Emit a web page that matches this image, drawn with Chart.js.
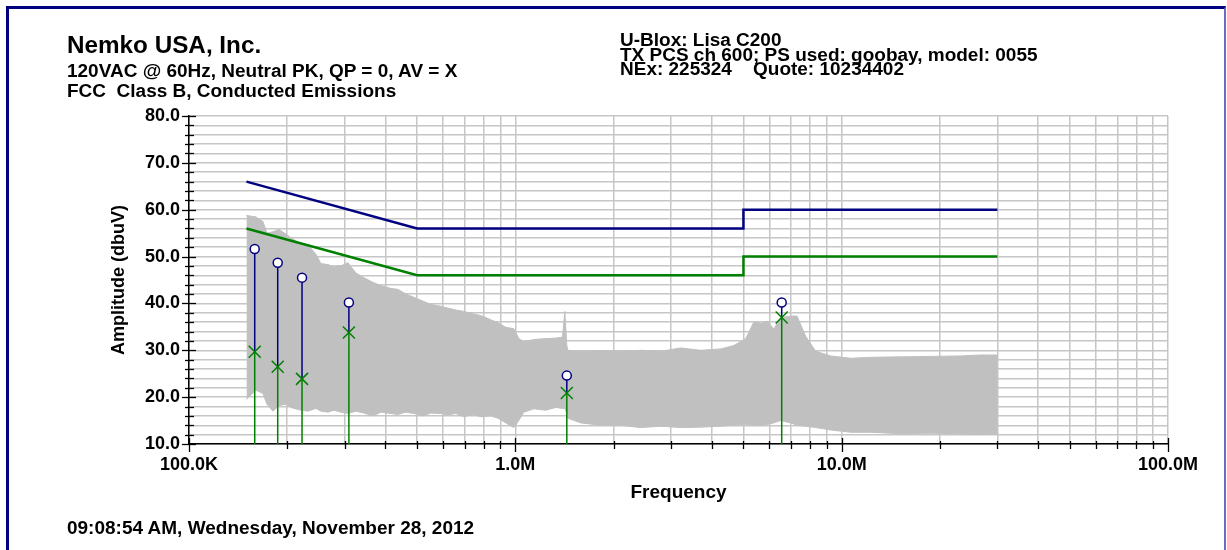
<!DOCTYPE html>
<html><head><meta charset="utf-8">
<script src="https://cdn.jsdelivr.net/npm/chart.js@4.4.1/dist/chart.umd.min.js"></script>
<style>
html,body{margin:0;padding:0;background:#fff;}
#wrap{position:relative;width:1227px;height:550px;overflow:hidden;font-family:"Liberation Sans",Arial,sans-serif;font-weight:bold;color:#000;}
#frame{position:absolute;left:6px;top:6px;width:1220px;height:600px;box-sizing:border-box;border-left:3px solid #000080;border-top:3px solid #000080;border-right:2px solid #6b6bc4;}
.t{position:absolute;white-space:pre;line-height:1;transform:scaleX(1.055);transform-origin:0 0;}
canvas{position:absolute;left:0;top:0;}
</style></head>
<body><div id="wrap">
<div id="frame"></div>
<canvas id="c" width="1227" height="550"></canvas>
<div class="t" style="left:67px;top:34px;font-size:23px;">Nemko USA, Inc.</div>
<div class="t" style="left:67px;top:62px;font-size:18px;">120VAC @ 60Hz, Neutral PK, QP = 0, AV = X</div>
<div class="t" style="left:67px;top:82px;font-size:18px;">FCC  Class B, Conducted Emissions</div>
<div class="t" style="left:620px;top:33px;font-size:18px;line-height:14.5px;">U-Blox: Lisa C200<br>TX PCS ch 600; PS used: goobay, model: 0055<br>NEx: 225324    Quote: 10234402</div>
<div class="t" style="left:67px;top:519px;font-size:18px;">09:08:54 AM, Wednesday, November 28, 2012</div>
</div>
<script>
// ---- Data (frequencies in MHz, amplitudes in dBuV) ----
const xTickVals = [0.1,0.2,0.3,0.4,0.5,0.6,0.7,0.8,0.9,1,2,3,4,5,6,7,8,9,10,20,30,40,50,60,70,80,90,100];
const xTickLabels = {0.1:'100.0K', 1:'1.0M', 10:'10.0M', 100:'100.0M'};
const yTickVals = [10,12,14,16,18,20,22,24,26,28,30,32,34,36,38,40,42,44,46,48,50,52,54,56,58,60,62,64,66,68,70,72,74,76,78,80];
const yTickLabels = {10:'10.0',20:'20.0',30:'30.0',40:'40.0',50:'50.0',60:'60.0',70:'70.0',80:'80.0'};

const limitFreqs = [0.15, 0.5, 5, 5, 30];
const qpLimit    = [66, 56, 56, 60, 60];
const avLimit    = [56, 46, 46, 50, 50];

const markerFreqs = [0.159, 0.187, 0.222, 0.309, 1.438, 6.55];
const peakVals    = [51.6, 48.7, 45.5, 40.2, 24.6, 40.2];
const avgVals     = [29.7, 26.5, 23.9, 33.8, 20.9, 37.0];

const noiseFreqs = [0.150,0.155,0.160,0.1685,0.1733,0.1808,0.1887,0.1982,0.2053,0.2172,0.2315,0.2449,0.2537,0.2665,0.2780,0.2921,0.3069,0.3247,0.3436,0.3661,0.3873,0.4157,0.4367,0.4619,0.4888,0.5208,0.5511,0.5911,0.6212,0.6572,0.6954,0.7411,0.7840,0.8414,0.8843,0.9352,0.9894,1.025,1.062,1.139,1.240,1.330,1.395,1.418,1.438,1.448,1.587,1.827,2.104,2.424,2.790,3.213,3.700,4.261,4.670,5.082,5.377,5.648,5.935,6.192,6.505,6.981,7.300,7.757,8.326,9.255,10.66,12.27,15.16,18.74,23.15,26.66,30.05];
const noiseHi = [58.8,58.6,58.5,57.5,55.0,55.3,55.8,54.8,54.0,53.0,52.5,50.5,48.5,48.3,47.8,48.0,48.7,46.5,45.5,44.5,43.8,43.2,43.0,42.0,41.3,40.5,39.8,39.4,39.0,38.6,38.3,37.8,37.4,36.5,35.9,34.9,34.6,32.5,31.8,32.3,32.5,32.6,32.8,38.3,31.0,30.0,29.8,29.9,29.8,30.0,29.8,30.5,30.0,30.3,31.0,32.5,36.0,35.8,36.2,34.5,37.0,37.3,37.3,33.0,29.8,28.8,28.3,28.5,28.6,28.7,28.8,29.0,29.0];
const noiseLo = [19.5,20.5,21.5,20.8,18.5,17.0,18.2,18.5,17.8,17.3,17.0,17.6,17.0,16.8,17.2,16.8,16.5,17.0,16.6,16.0,16.8,16.5,16.3,16.8,16.5,16.0,16.6,16.5,16.2,16.5,15.8,16.3,15.8,16.0,15.5,14.5,13.5,15.0,16.8,17.5,17.2,17.8,17.6,17.6,16.5,15.5,14.5,14.0,14.0,13.5,13.8,13.5,13.6,13.8,14.0,14.2,14.0,14.0,14.2,14.5,15.0,14.5,14.0,13.8,13.5,13.0,12.5,12.5,12.2,12.3,12.2,12.0,12.2];

// ---- build datasets ----
const pts = (xs, ys) => xs.map((x, i) => ({x, y: ys[i]}));
const blueStem = [], greenStem = [];
markerFreqs.forEach((f, i) => {
  blueStem.push({x: f, y: peakVals[i]}, {x: f, y: avgVals[i]}, {x: f, y: null});
  greenStem.push({x: f, y: avgVals[i]}, {x: f, y: 10}, {x: f, y: null});
});

const tickMarks = {
  id: 'tickMarks',
  afterDraw(chart) {
    const {ctx, scales: {x, y}, chartArea: a} = chart;
    ctx.save();
    ctx.strokeStyle = '#000';
    ctx.lineWidth = 1.3;
    y.ticks.forEach(t => {
      const py = Math.round(y.getPixelForValue(t.value)) + 0.5;
      const major = t.value % 10 === 0;
      ctx.beginPath(); ctx.moveTo(a.left - (major ? 7 : 4), py); ctx.lineTo(a.left + (major ? 7 : 5), py); ctx.stroke();
    });
    x.ticks.forEach(t => {
      const px = Math.round(x.getPixelForValue(t.value)) + 0.5;
      const major = xTickLabels[t.value] !== undefined;
      ctx.beginPath(); ctx.moveTo(px, a.bottom - (major ? 6 : 3)); ctx.lineTo(px, a.bottom + (major ? 8 : 5)); ctx.stroke();
    });
    ctx.restore();
  }
};

const GRID = '#c6c6c6';
new Chart(document.getElementById('c'), {
  type: 'line',
  data: {
    datasets: [
      {data: pts(noiseFreqs, noiseHi), borderColor: '#c0c0c0', borderWidth: 1, backgroundColor: '#c0c0c0', fill: '+1', pointRadius: 0, order: 10, tension: 0},
      {data: pts(noiseFreqs, noiseLo), borderColor: '#c0c0c0', borderWidth: 1, pointRadius: 0, fill: false, order: 11, tension: 0},
      {data: pts(limitFreqs, qpLimit), borderColor: '#000080', borderWidth: 2.5, pointRadius: 0, fill: false, order: 5},
      {data: pts(limitFreqs, avLimit), borderColor: '#008000', borderWidth: 2.5, pointRadius: 0, fill: false, order: 5},
      {data: greenStem, borderColor: '#008000', borderWidth: 1.5, pointRadius: 0, spanGaps: false, fill: false, order: 4},
      {data: blueStem, borderColor: '#000080', borderWidth: 1.5, pointRadius: 0, spanGaps: false, fill: false, order: 3},
      {data: pts(markerFreqs, avgVals), showLine: false, pointStyle: 'crossRot', pointRadius: 8.5, borderColor: '#008000', borderWidth: 1.5, order: 2},
      {data: pts(markerFreqs, peakVals), showLine: false, pointStyle: 'circle', pointRadius: 4.5, borderColor: '#000080', backgroundColor: '#ffffff', borderWidth: 1.5, order: 1}
    ]
  },
  options: {
    responsive: false,
    animation: false,
    parsing: true,
    layout: {padding: {left: 104, right: 59, top: 116, bottom: 42}},
    plugins: {legend: {display: false}, tooltip: {enabled: false}},
    scales: {
      x: {
        type: 'logarithmic', min: 0.1, max: 100,
        afterBuildTicks: s => { s.ticks = xTickVals.map(v => ({value: v})); },
        afterFit: s => { s.height = 64; },
        grid: {color: GRID, lineWidth: 1.5, drawTicks: false},
        border: {color: '#000', width: 1.5},
        ticks: {autoSkip: false, maxRotation: 0, padding: 10, color: '#000',
          font: {family: 'Liberation Sans', size: 18, weight: 'bold'},
          callback: v => xTickLabels[v] !== undefined ? xTickLabels[v] : ''},
        title: {display: true, text: 'Frequency', color: '#000', font: {family: 'Liberation Sans', size: 19, weight: 'bold'}}
      },
      y: {
        type: 'linear', min: 10, max: 80,
        afterBuildTicks: s => { s.ticks = yTickVals.map(v => ({value: v})); },
        afterFit: s => { s.width = 85; },
        grid: {color: GRID, lineWidth: 1.5, drawTicks: false},
        border: {color: '#000', width: 1.5},
        ticks: {autoSkip: false, padding: 9, color: '#000',
          font: {family: 'Liberation Sans', size: 18, weight: 'bold'},
          callback: v => yTickLabels[v] !== undefined ? yTickLabels[v] : ''},
        title: {display: true, text: 'Amplitude (dbuV)', color: '#000', font: {family: 'Liberation Sans', size: 18, weight: 'bold'}}
      }
    }
  },
  plugins: [tickMarks]
});
</script>
</body></html>
